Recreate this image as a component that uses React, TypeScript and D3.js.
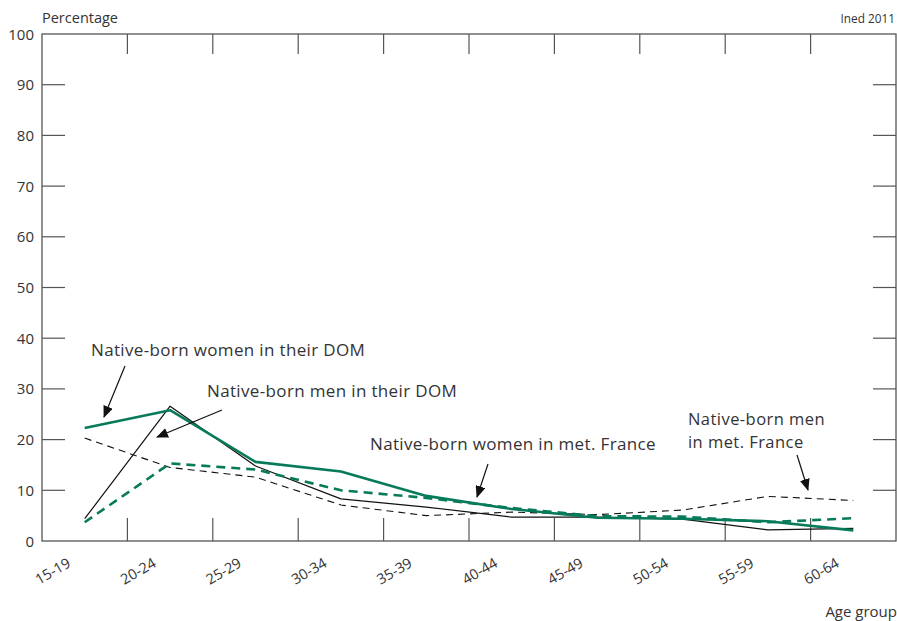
import React from 'react'
import * as d3 from 'd3'

const ageGroups = ['15-19', '20-24', '25-29', '30-34', '35-39', '40-44', '45-49', '50-54', '55-59', '60-64']
const womenDom = [22.3, 25.8, 15.6, 13.7, 8.9, 6.3, 4.6, 4.4, 3.9, 2.1]
const menDom = [4.4, 26.6, 14.8, 8.3, 6.7, 4.7, 4.7, 4.3, 2.2, 2.5]
const womenMet = [3.7, 15.3, 14.1, 10.0, 8.5, 6.5, 4.9, 4.8, 3.7, 4.5]
const menMet = [20.3, 14.5, 12.6, 7.1, 5.0, 5.7, 5.2, 6.1, 8.8, 8.0]
const yTicks = [0, 10, 20, 30, 40, 50, 60, 70, 80, 90, 100]

const GREEN = '#077a5a'
const AXIS = '#555'
const TEXT = '#333'
const FONT = '"Open Sans", "Noto Sans", sans-serif'

const W = 897
const H = 621
const left = 42
const right = 896
const top = 34
const bottom = 541

export default function App() {
  const x = d3.scaleBand<string>().domain(ageGroups).range([left, right])
  const y = d3.scaleLinear().domain([0, 100]).range([bottom, top])
  const cx = (i: number) => (x(ageGroups[i]) as number) + x.bandwidth() / 2

  const line = d3.line<number>().x((_, i) => cx(i)).y(d => y(d))

  const series = [
    { values: menMet, stroke: '#111', width: 1.1, dash: '7,5' },
    { values: menDom, stroke: '#111', width: 1.2, dash: undefined },
    { values: womenMet, stroke: GREEN, width: 2.6, dash: '9,6' },
    { values: womenDom, stroke: GREEN, width: 2.6, dash: undefined },
  ]

  const arrows = [
    { x1: 125, y1: 366, x2: 104, y2: 417 },
    { x1: 222, y1: 410, x2: 157, y2: 437 },
    { x1: 488, y1: 464, x2: 477, y2: 497 },
    { x1: 797, y1: 455, x2: 808, y2: 490 },
  ]

  return (
    <svg width={W} height={H} style={{ position: 'absolute', left: 0, top: 0, background: '#fff' }} fontFamily={FONT}>
      <defs>
        <marker id="arr" viewBox="0 0 12 10" refX="11" refY="5" markerWidth="12" markerHeight="10" markerUnits="userSpaceOnUse" orient="auto">
          <path d="M0,0 L12,5 L0,10 Z" fill="#111" />
        </marker>
      </defs>

      {/* frame */}
      <rect x={left} y={top} width={right - left} height={bottom - top} fill="none" stroke={AXIS} strokeWidth={1.3} />

      {/* y ticks on both sides */}
      {yTicks.filter(t => t > 0 && t < 100).map(t => (
        <g key={t}>
          <line x1={left} x2={left + 23} y1={y(t)} y2={y(t)} stroke={AXIS} strokeWidth={1.2} />
          <line x1={right - 23} x2={right} y1={y(t)} y2={y(t)} stroke={AXIS} strokeWidth={1.2} />
        </g>
      ))}
      {yTicks.map(t => (
        <text key={t} x={34} y={y(t) + 5.5} textAnchor="end" fontSize={15} fill={TEXT}>{t}</text>
      ))}

      {/* x ticks at band boundaries, top and bottom */}
      {ageGroups.slice(1).map(g => {
        const bx = x(g) as number
        return (
          <g key={g}>
            <line x1={bx} x2={bx} y1={bottom} y2={bottom - 23} stroke={AXIS} strokeWidth={1.2} />
            <line x1={bx} x2={bx} y1={top} y2={top + 20} stroke={AXIS} strokeWidth={1.2} />
          </g>
        )
      })}
      {ageGroups.map((g, i) => (
        <text key={g} transform={`translate(${cx(i) - 13},${566}) rotate(-30)`} textAnchor="end" fontSize={14.5} fill={TEXT}>{g}</text>
      ))}

      {/* series */}
      {series.map((s, i) => (
        <path key={i} d={line(s.values) as string} fill="none" stroke={s.stroke} strokeWidth={s.width} strokeDasharray={s.dash} strokeLinejoin="round" />
      ))}

      {/* annotations */}
      {arrows.map((a, i) => (
        <line key={i} x1={a.x1} y1={a.y1} x2={a.x2} y2={a.y2} stroke="#111" strokeWidth={1.2} markerEnd="url(#arr)" />
      ))}
      <g fontSize={17} letterSpacing={0.35} fill={TEXT}>
        <text x={91} y={356}>Native-born women in their DOM</text>
        <text x={207} y={397}>Native-born men in their DOM</text>
        <text x={370} y={450}>Native-born women in met. France</text>
      </g>
      <g fontSize={16.5} letterSpacing={0.45} fill={TEXT}>
        <text x={688} y={425}>Native-born men</text>
        <text x={688} y={448}>in met. France</text>
      </g>

      <text x={42} y={23} fontSize={14.5} fill={TEXT}>Percentage</text>
      <text x={895} y={23} fontSize={11.8} textAnchor="end" fill={TEXT}>Ined 2011</text>
      <text x={897} y={617} fontSize={15} textAnchor="end" fill={TEXT}>Age group</text>
    </svg>
  )
}
